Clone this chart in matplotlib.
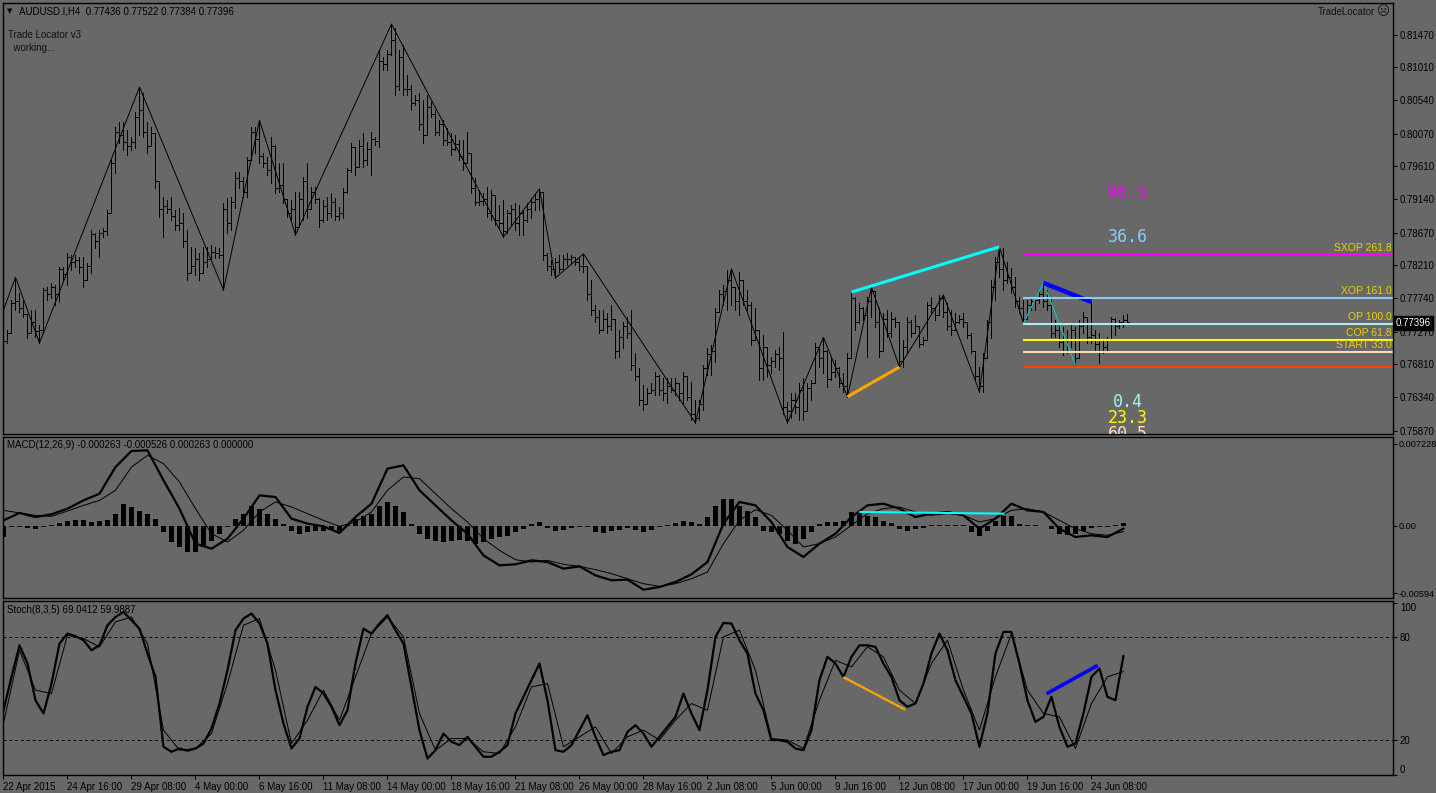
import numpy as np
import matplotlib
matplotlib.use("Agg")
import matplotlib.pyplot as plt
from matplotlib.collections import LineCollection

W, H = 1436, 793
BG = '#686868'
GOLD = '#e8d200'

plt.rcParams['font.family'] = ['Liberation Sans', 'DejaVu Sans']

# ---- H4 price bars (pips, 0.xxxx * 10000) ----
first_open = 7745
hi = [7758, 7730, 7772, 7804, 7782, 7770, 7751, 7758, 7758, 7736,
      7789, 7790, 7796, 7793, 7818, 7818, 7838, 7835, 7835, 7833,
      7833, 7824, 7871, 7867, 7871, 7874, 7899, 7970, 8016, 8023,
      8023, 8012, 8002, 8038, 8073, 8064, 8023, 8016, 7995, 7939,
      7917, 7913, 7917, 7899, 7902, 7895, 7871, 7847, 7845, 7838,
      7847, 7847, 7850, 7847, 7845, 7909, 7916, 7917, 7953, 7953,
      7946, 7974, 8016, 8016, 8026, 7980, 7974, 8002, 7991, 7966,
      7966, 7913, 7913, 7925, 7925, 7946, 7966, 7932, 7932, 7916,
      7913, 7917, 7923, 7916, 7903, 7930, 7958, 7994, 7984, 7998,
      8008, 7995, 8009, 8002, 8125, 8115, 8125, 8162, 8156, 8125,
      8132, 8090, 8076, 8062, 8064, 8055, 8062, 8052, 8040, 8026,
      8026, 8015, 8008, 8005, 7998, 7998, 8009, 7977, 7944, 7927,
      7923, 7932, 7927, 7913, 7906, 7913, 7899, 7906, 7909, 7906,
      7899, 7909, 7916, 7923, 7929, 7920, 7838, 7828, 7831, 7835,
      7835, 7838, 7835, 7831, 7831, 7837, 7817, 7800, 7765, 7758,
      7758, 7753, 7765, 7744, 7729, 7741, 7748, 7758, 7697, 7676,
      7652, 7647, 7654, 7670, 7666, 7662, 7662, 7662, 7662, 7652,
      7670, 7652, 7656, 7630, 7630, 7680, 7704, 7708, 7760, 7786,
      7793, 7814, 7816, 7786, 7811, 7786, 7786, 7769, 7760, 7729,
      7722, 7697, 7691, 7701, 7705, 7727, 7628, 7640, 7640, 7654,
      7662, 7654, 7659, 7711, 7701, 7719, 7701, 7691, 7687, 7677,
      7669, 7697, 7783, 7776, 7768, 7762, 7776, 7790, 7776, 7760,
      7753, 7758, 7755, 7748, 7734, 7715, 7748, 7744, 7751, 7719,
      7719, 7769, 7776, 7762, 7779, 7779, 7768, 7758, 7753, 7751,
      7753, 7739, 7725, 7687, 7677, 7697, 7744, 7800, 7833, 7847,
      7845, 7826, 7817, 7804, 7776, 7772, 7772, 7775, 7776, 7786,
      7796, 7786, 7776, 7744, 7739, 7734, 7729, 7739, 7734, 7744,
      7755, 7748, 7769, 7729, 7725, 7715, 7719, 7748, 7746, 7744,
      7751, 7752]
lo = [7704, 7711, 7745, 7758, 7755, 7748, 7718, 7729, 7720, 7711,
      7725, 7772, 7775, 7765, 7769, 7800, 7793, 7814, 7818, 7810,
      7790, 7807, 7810, 7846, 7833, 7861, 7864, 7895, 7952, 7994,
      7984, 7977, 7984, 7987, 8005, 8002, 7980, 7994, 7930, 7889,
      7861, 7895, 7885, 7871, 7871, 7847, 7800, 7814, 7807, 7800,
      7817, 7818, 7833, 7831, 7831, 7786, 7867, 7871, 7902, 7930,
      7917, 7917, 7970, 7980, 7966, 7960, 7949, 7937, 7923, 7925,
      7909, 7889, 7885, 7864, 7895, 7885, 7888, 7903, 7909, 7875,
      7882, 7885, 7889, 7885, 7885, 7888, 7923, 7953, 7949, 7966,
      7960, 7963, 7949, 7991, 7988, 8097, 8097, 8118, 8062, 8069,
      8062, 8062, 8040, 8048, 8012, 7994, 8005, 8031, 8005, 8005,
      7991, 7991, 7977, 7984, 7970, 7956, 7977, 7923, 7906, 7906,
      7906, 7889, 7885, 7878, 7871, 7861, 7867, 7878, 7871, 7864,
      7864, 7882, 7888, 7899, 7899, 7828, 7814, 7807, 7803, 7811,
      7817, 7821, 7824, 7821, 7814, 7811, 7772, 7751, 7741, 7725,
      7729, 7725, 7729, 7690, 7691, 7704, 7718, 7673, 7659, 7623,
      7616, 7633, 7640, 7637, 7637, 7630, 7626, 7642, 7637, 7630,
      7626, 7630, 7602, 7598, 7602, 7616, 7666, 7666, 7684, 7758,
      7765, 7758, 7765, 7758, 7751, 7765, 7758, 7708, 7718, 7659,
      7659, 7663, 7669, 7677, 7673, 7610, 7598, 7605, 7612, 7602,
      7602, 7630, 7630, 7663, 7677, 7668, 7649, 7659, 7663, 7649,
      7642, 7635, 7697, 7729, 7739, 7744, 7691, 7748, 7734, 7691,
      7729, 7720, 7720, 7734, 7677, 7677, 7697, 7719, 7729, 7705,
      7708, 7744, 7753, 7744, 7758, 7748, 7729, 7722, 7734, 7739,
      7734, 7718, 7697, 7659, 7642, 7642, 7711, 7718, 7772, 7804,
      7786, 7796, 7782, 7762, 7753, 7739, 7748, 7758, 7758, 7768,
      7762, 7758, 7719, 7719, 7705, 7694, 7697, 7705, 7680, 7715,
      7725, 7711, 7711, 7701, 7683, 7697, 7701, 7719, 7722, 7732,
      7734, 7738]
cl = [7714, 7725, 7768, 7770, 7760, 7752, 7725, 7740, 7728, 7730,
      7786, 7780, 7790, 7780, 7815, 7808, 7833, 7825, 7828, 7818,
      7800, 7820, 7865, 7855, 7866, 7870, 7895, 7965, 8010, 8005,
      7995, 7990, 7995, 8030, 8040, 8010, 7990, 8008, 7940, 7900,
      7905, 7900, 7890, 7878, 7880, 7855, 7810, 7820, 7830, 7810,
      7825, 7830, 7840, 7838, 7835, 7900, 7880, 7910, 7945, 7940,
      7925, 7970, 8010, 8000, 7975, 7965, 7955, 7990, 7930, 7935,
      7915, 7895, 7900, 7875, 7915, 7940, 7900, 7925, 7915, 7885,
      7905, 7895, 7910, 7890, 7895, 7925, 7955, 7988, 7960, 7990,
      7970, 7985, 8000, 7996, 8110, 8105, 8120, 8140, 8075, 8115,
      8070, 8070, 8050, 8055, 8020, 8005, 8045, 8035, 8010, 8020,
      7998, 7995, 7985, 7992, 7975, 7965, 7980, 7930, 7910, 7912,
      7915, 7895, 7920, 7885, 7880, 7870, 7895, 7900, 7880, 7895,
      7885, 7900, 7910, 7915, 7925, 7835, 7820, 7815, 7825, 7815,
      7830, 7830, 7832, 7825, 7820, 7820, 7780, 7758, 7748, 7730,
      7745, 7735, 7745, 7700, 7720, 7735, 7725, 7680, 7665, 7630,
      7625, 7640, 7645, 7665, 7645, 7640, 7650, 7645, 7655, 7640,
      7665, 7635, 7610, 7605, 7625, 7675, 7695, 7700, 7755, 7780,
      7785, 7800, 7790, 7770, 7800, 7770, 7765, 7715, 7730, 7675,
      7705, 7680, 7685, 7695, 7690, 7620, 7615, 7630, 7620, 7645,
      7615, 7648, 7655, 7705, 7690, 7700, 7660, 7670, 7675, 7655,
      7650, 7690, 7775, 7740, 7760, 7750, 7770, 7785, 7740, 7700,
      7745, 7725, 7745, 7740, 7685, 7705, 7740, 7725, 7735, 7710,
      7715, 7765, 7760, 7750, 7775, 7755, 7735, 7730, 7740, 7745,
      7740, 7722, 7700, 7665, 7650, 7690, 7740, 7790, 7825, 7815,
      7800, 7805, 7790, 7770, 7760, 7745, 7765, 7770, 7772, 7780,
      7770, 7765, 7725, 7730, 7712, 7700, 7715, 7730, 7690, 7735,
      7748, 7720, 7722, 7710, 7700, 7705, 7715, 7745, 7735, 7740,
      7744, 7740]

# zigzag pivots: bar index and whether it sits on the high or the low
zz_idx = [0, 3, 9, 34, 55, 64, 73, 97, 125, 134, 138, 145, 173, 182,
          196, 205, 211, 217, 224, 235, 244, 249, 255]
zz_top = [1, 1, 0, 1, 0, 1, 0, 1, 0, 1, 0, 1, 0, 1,
          0, 1, 0, 1, 0, 1, 0, 1, 0]

# Trade Locator levels
level_names = ['SXOP 261.8', 'XOP 161.0', 'OP 100.0', 'COP 61.8', 'START 33.0', '']
level_prices = [0.78359, 0.77746, 0.77379, 0.77152, 0.76983, 0.76775]
level_colors = ['#ff00ff', '#87cefa', '#afeeee', '#ffff00', '#ffdab9', '#ff4500']
level_start = 255

score_text = ['96.5', '36.6', '0.4', '23.3', '60.5']
score_price = [0.79231, 0.78613, 0.76276, 0.76045, 0.75826]
score_color = ['#ff00ff', '#87cefa', '#afeeee', '#ffff00', '#ffdab9']

price_ticks = [0.81470, 0.81010, 0.80540, 0.80070, 0.79610, 0.79140, 0.78670,
               0.78210, 0.77740, 0.77270, 0.76810, 0.76340, 0.75870]
last_price = 0.77396

# ---- MACD (units of 1e-4), sampled every 4 bars ----
macd_x = list(range(0, 281, 4))
macd_main = [4.7, 11.2, 7.6, 10.0, 15.0, 22.3, 28.2, 51.7, 65.9, 66.4, 40.0, 15.0,
             -15.9, -20.3, -11.5, 6.2, 26.7, 25.3, 6.2, 1.8, -0.6, -6.5, 7.6, 19.4,
             50.3, 53.2, 31.2, 17.9, 4.7, -7.1, -26.2, -35.0, -34.1, -30.6, -32.1, -37.9,
             -35.9, -43.8, -48.2, -47.6, -56.5, -54.1, -49.7, -42.9, -32.1, 1.8, 20.9, 17.9,
             3.2, -18.8, -27.6, -15.9, -7.1, 7.6, 17.9, 19.4, 15.0, 7.6, 10.6, 12.1,
             9.1, -2.7, 6.2, 19.4, 13.5, 12.1, -2.7, -10.0, -8.5, -10.0, -2.6]
macd_signal = [13.5, 11.2, 9.1, 8.2, 12.9, 17.9, 22.3, 31.2, 51.7, 62.0, 54.7, 38.5,
               15.0, -7.1, -14.4, -4.1, 12.1, 20.9, 16.5, 10.6, 4.7, -0.6, 3.2, 12.1,
               31.2, 42.9, 41.5, 28.2, 15.0, 3.2, -11.5, -21.8, -30.0, -32.1, -30.6, -34.1,
               -35.9, -38.8, -42.3, -46.8, -51.2, -53.5, -51.2, -46.8, -40.9, -15.9, 4.7, 14.1,
               9.1, -4.1, -18.8, -15.9, -10.0, 0.3, 10.6, 15.0, 16.5, 12.1, 9.1, 10.6,
               9.1, 3.2, 6.2, 13.5, 15.0, 12.1, 4.7, -2.7, -7.1, -8.5, -5.3]
# histogram sampled every 2 bars
hist_x = list(range(0, 281, 2))
macd_hist = [-10.3, -1.2, -0.9, -2.4, -2.9, -1.2, 0.6, 2.4, 4.1, 5.3, 4.7, 2.9,
             4.1, 5.3, 10.3, 19.1, 16.2, 13.2, 10.3, 5.9, -5.9, -14.7, -19.1, -23.5,
             -22.9, -19.1, -13.2, -7.4, -1.5, 5.9, 10.3, 17.1, 14.7, 10.3, 5.9, 1.5,
             -4.4, -7.4, -5.9, -4.4, -4.4, -2.9, -4.4, 1.5, 5.9, 8.2, 10.3, 17.6,
             20.6, 17.6, 11.8, 1.5, -7.4, -11.8, -13.2, -14.1, -13.2, -12.3, -13.2, -16.2,
             -14.7, -11.8, -10.3, -8.8, -5.9, -2.9, 1.5, 2.9, -2.4, -4.4, -3.5, -2.4,
             -0.9, -1.5, -5.9, -6.5, -4.4, -3.5, -2.4, -3.5, -5.9, -3.5, -0.9, 0.9,
             2.4, 4.4, 2.9, 1.5, 7.4, 17.6, 23.5, 23.5, 17.6, 13.2, 7.4,
             -4.4, -5.9, -7.4, -13.2, -16.2, -11.8, -5.9, 1.5, 2.9, 3.5, 4.4, 11.8,
             11.8, 8.8, 7.4, 4.4, 2.4, -2.9, -4.4, -2.9, -2.4, 0.9, 0.9, 0.6,
             0.3, 0.3, -5.9, -8.8, -4.4, 4.4, 8.8, 8.2, 1.5, 0.3, 0.3, -0.3,
             -2.9, -7.4, -8.2, -7.4, -4.4, -2.4, -1.5, -0.9, 0.6, 2.6]
macd_trend_x = [214.2, 250.0]
macd_trend_y = [12.1, 10.6]

# ---- Stochastic (8,3,5) ----
stoch_x = list(range(0, 281, 2))
stoch_main = [37.5, 56.9, 75.3, 64.7, 43.3, 35.6, 53.0, 76.3, 82.1, 80.6, 78.3, 72.4,
              75.3, 87.0, 91.8, 94.7, 89.9, 85.0, 70.5, 56.9, 16.2, 13.3, 15.2, 13.9,
              15.2, 18.1, 26.9, 41.4, 60.8, 84.1, 90.9, 93.8, 88.0, 76.3, 49.2, 29.8,
              15.2, 21.0, 39.5, 51.1, 47.2, 39.5, 28.8, 37.5, 64.7, 85.0, 82.1, 88.0,
              92.8, 84.1, 76.3, 51.1, 25.9, 9.4, 14.2, 23.9, 19.1, 17.2, 22.0, 16.2,
              10.4, 10.4, 13.3, 17.2, 35.6, 45.3, 55.0, 64.7, 43.3, 14.2, 13.3, 17.2,
              25.9, 34.6, 22.0, 11.4, 13.3, 14.2, 24.9, 28.8, 23.9, 16.2, 22.0, 27.8,
              33.6, 47.2, 35.6, 25.9, 49.2, 80.2, 88.3, 88.0, 78.3, 70.5, 47.2,
              37.5, 20.1, 20.1, 19.1, 15.2, 14.2, 25.9, 55.0, 68.6, 64.7, 56.9, 68.6,
              75.3, 75.3, 74.4, 64.7, 56.9, 43.3, 39.5, 41.4, 53.0, 70.5, 82.1, 72.4,
              55.0, 45.3, 35.6, 16.2, 35.6, 70.5, 83.1, 83.1, 64.7, 43.3, 30.7, 33.6,
              45.3, 27.8, 16.2, 18.1, 35.6, 56.9, 61.8, 45.3, 43.3, 69.0]
stoch_sig_x = list(range(0, 281, 4))
stoch_signal = [29.8, 72.4, 49.2, 47.2, 81.2, 79.2, 74.4, 88.9, 91.8, 76.3, 25.9, 14.2,
                15.2, 23.9, 53.0, 87.0, 90.9, 60.8, 18.1, 31.7, 49.2, 31.7, 56.9, 82.1,
                91.8, 80.2, 35.6, 14.2, 21.0, 21.0, 13.3, 12.3, 27.8, 51.1, 53.0, 16.2,
                22.0, 27.8, 12.3, 22.0, 25.9, 20.1, 31.7, 41.4, 37.5, 80.2, 84.1, 60.8,
                21.0, 20.1, 15.2, 43.3, 66.6, 62.7, 74.4, 68.6, 49.2, 41.4, 64.7, 78.3,
                49.2, 25.9, 56.9, 82.1, 49.2, 35.6, 33.6, 15.2, 41.4, 56.9, 60.0]
stoch_orange_x = [210.2, 225.2]
stoch_orange_y = [56.5, 38.1]
stoch_blue_x = [261.2, 273.2]
stoch_blue_y = [47.6, 63.1]

date_labels = ['22 Apr 2015', '24 Apr 16:00', '29 Apr 08:00', '4 May 00:00', '6 May 16:00',
               '11 May 08:00', '14 May 00:00', '18 May 16:00', '21 May 08:00', '26 May 00:00',
               '28 May 16:00', '2 Jun 08:00', '5 Jun 00:00', '9 Jun 16:00', '12 Jun 08:00',
               '17 Jun 00:00', '19 Jun 16:00', '24 Jun 08:00']

# ---- figure ----
fig = plt.figure(figsize=(W / 100, H / 100), dpi=100, facecolor=BG)
XMIN, XMAX = -0.125, 347.4


def panel(top, bottom, lsize=7):
    ax = fig.add_axes([3 / W, 1 - bottom / H, 1390 / W, (bottom - top) / H])
    ax.set_facecolor(BG)
    for s in ax.spines.values():
        s.set_color('black')
        s.set_linewidth(1.0)
    ax.set_xlim(XMIN, XMAX)
    ax.set_xticks([])
    ax.yaxis.tick_right()
    ax.tick_params(axis='y', direction='out', length=3, width=0.8, colors='black',
                   labelsize=lsize, pad=2)
    return ax


# main price panel
ax = panel(3, 434)
ax.set_ylim(0.75823, 0.81918)
ax.set_yticks(price_ticks)
ax.set_yticklabels([f'{p:.5f}' for p in price_ticks])

H_ = np.array(hi) / 1e4
L_ = np.array(lo) / 1e4
C_ = np.array(cl) / 1e4
O_ = np.concatenate([[first_open / 1e4], C_[:-1]])
segs = []
for i in range(len(C_)):
    top = max(H_[i], O_[i], C_[i])
    bot = min(L_[i], O_[i], C_[i])
    segs.append([(i, bot), (i, top)])
    segs.append([(i - 0.3, O_[i]), (i, O_[i])])
    segs.append([(i, C_[i]), (i + 0.3, C_[i])])
ax.add_collection(LineCollection(segs, colors='black', linewidths=0.55, antialiased=False))

zz_y = [H_[i] if t else L_[i] for i, t in zip(zz_idx, zz_top)]
ax.plot(zz_idx, zz_y, color='black', lw=0.7)

# pattern lines
ax.plot([212, 249], [H_[212], H_[249]], color='#00ffff', lw=2.2, solid_capstyle='butt')
ax.plot([211, 224], [L_[211], L_[224]], color='#ffa500', lw=2.2, solid_capstyle='butt')
ax.plot([255, 260, 268], [L_[255], H_[260], L_[268]], color='#00c8c8', lw=0.8)
ax.plot([260, 272], [H_[260], H_[272]], color='#0000ff', lw=3.2, solid_capstyle='butt')

for name, p, c in zip(level_names, level_prices, level_colors):
    ax.plot([level_start, XMAX], [p, p], color=c, lw=1.5, solid_capstyle='butt')
    if name:
        ax.annotate(name, xy=(1, p), xycoords=('axes fraction', 'data'),
                    xytext=(-1, 1.2), textcoords='offset points', ha='right',
                    va='bottom', color=GOLD, fontsize=7.5)

for t, p, c in zip(score_text, score_price, score_color):
    ax.text(281, p, t, ha='center', va='center', color=c, fontsize=12,
            family='DejaVu Sans Mono', clip_on=True)

ax.annotate(f'{last_price:.5f}', xy=(1, last_price), xycoords=('axes fraction', 'data'),
            xytext=(2, 0), textcoords='offset points', ha='left', va='center',
            color='white', fontsize=7,
            bbox=dict(boxstyle='square,pad=0.2', fc='black', ec='black'))

# MACD panel
am = panel(437, 598, lsize=6.6)
am.tick_params(axis='y', pad=1)
am.set_ylim(-63.8e-4, 78.2e-4)
am.set_yticks([0.007228, 0.0, -0.00594])
am.set_yticklabels(['0.007228', '0.00', '-0.00594'])
am.bar(hist_x, np.array(macd_hist) * 1e-4, width=1.2, color='black', linewidth=0)
am.plot(macd_x, np.array(macd_main) * 1e-4, color='black', lw=1.6)
am.plot(macd_x, np.array(macd_signal) * 1e-4, color='black', lw=0.7)
am.plot(macd_trend_x, np.array(macd_trend_y) * 1e-4, color='#00ffff', lw=1.5)

# Stochastic panel
ast = panel(601, 775)
ast.set_ylim(-0.23, 101.1)
ast.set_yticks([100, 80, 20, 0])
ast.set_yticklabels(['100', '80', '20', '0'])
lbls = ast.get_yticklabels()
lbls[0].set_va('top')
lbls[3].set_va('bottom')
for lvl in (80, 20):
    ast.axhline(lvl, color='black', lw=0.7, ls=(0, (3, 3)))
ast.plot(stoch_x, stoch_main, color='black', lw=1.6)
ast.plot(stoch_sig_x, stoch_signal, color='black', lw=0.7)
ast.plot(stoch_orange_x, stoch_orange_y, color='#ffa500', lw=1.6)
ast.plot(stoch_blue_x, stoch_blue_y, color='#0000ff', lw=2.6)
ast.set_xticks(range(0, 16 * len(date_labels), 16))
ast.set_xticklabels(date_labels)
ast.tick_params(axis='x', direction='out', length=3, width=0.8, colors='black',
                labelsize=7, pad=2)
for lb in ast.get_xticklabels():
    lb.set_ha('left')

# header texts
fig.text(7 / W, 1 - 11 / H, '\u25bc', fontsize=5, va='center', color='black',
         family='DejaVu Sans')
fig.text(19 / W, 1 - 11 / H, 'AUDUSD.I,H4  0.77436 0.77522 0.77384 0.77396',
         fontsize=7, va='center', color='black')
fig.text(8 / W, 1 - 35.5 / H, 'Trade Locator v3', fontsize=7, va='center', color='#111111')
fig.text(8 / W, 1 - 48 / H, '  working...', fontsize=7, va='center', color='#111111')
fig.text(1375 / W, 1 - 12 / H, 'TradeLocator', fontsize=7, va='center', ha='right',
         color='#111111')
fig.text(1377 / W, 1 - 12 / H, '\u2639', fontsize=9, va='center', ha='left',
         color='#111111', family='DejaVu Sans')
fig.text(7 / W, 1 - 445 / H, 'MACD(12,26,9) -0.000263 -0.000526 0.000263 0.000000',
         fontsize=7, va='center', color='black')
fig.text(7 / W, 1 - 610 / H, 'Stoch(8,3,5) 69.0412 59.9887', fontsize=7, va='center',
         color='black')

fig.savefig('out.png', dpi=100, facecolor=BG)
